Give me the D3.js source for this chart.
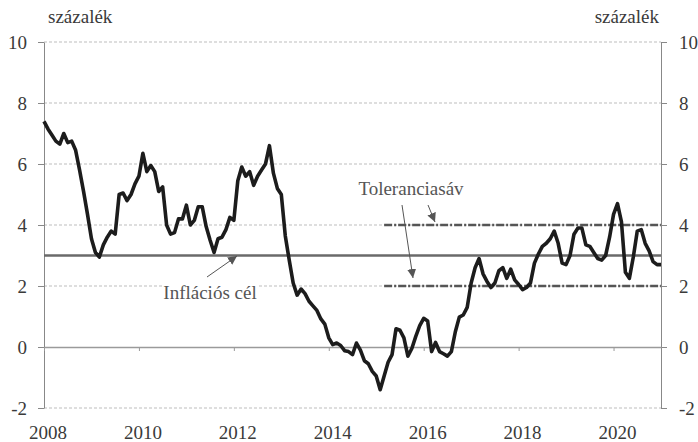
<!DOCTYPE html>
<html>
<head>
<meta charset="utf-8">
<script src="https://cdn.jsdelivr.net/npm/d3@7"></script>
<style>
  body { margin: 0; background: #fff; }
</style>
</head>
<body>
<script>
// monthly inflation, Dec 2007 .. Dec 2020 (percent)
var values = [
  7.4, 7.15, 6.95, 6.75, 6.65, 7.0, 6.7, 6.75, 6.45, 5.8, 5.1, 4.35, 3.55,
  3.1, 2.95, 3.35, 3.6, 3.8, 3.7, 5.0, 5.05, 4.8, 5.0, 5.35, 5.6,
  6.35, 5.75, 5.95, 5.75, 5.1, 5.25, 4.0, 3.7, 3.75, 4.2, 4.2, 4.65,
  4.0, 4.15, 4.6, 4.6, 3.95, 3.5, 3.1, 3.55, 3.6, 3.85, 4.25, 4.15,
  5.45, 5.9, 5.6, 5.75, 5.3, 5.6, 5.8, 6.0, 6.6, 5.7, 5.2, 5.0,
  3.65, 2.85, 2.1, 1.7, 1.9, 1.75, 1.5, 1.35, 1.2, 0.92, 0.75, 0.3,
  0.08, 0.13, 0.05, -0.12, -0.15, -0.25, 0.13, -0.1, -0.45, -0.55, -0.8, -0.95,
  -1.4, -0.95, -0.5, -0.25, 0.6, 0.55, 0.3, -0.3, -0.05, 0.35, 0.7, 0.94,
  0.85, -0.15, 0.15, -0.15, -0.22, -0.3, -0.15, 0.5, 0.98, 1.05, 1.3, 2.1,
  2.6, 2.9, 2.4, 2.15, 1.95, 2.1, 2.5, 2.6, 2.25, 2.55, 2.2, 2.05,
  1.88, 1.95, 2.1, 2.75, 3.05, 3.3, 3.4, 3.55, 3.8, 3.4, 2.75, 2.7,
  3.0, 3.7, 3.9, 3.9, 3.35, 3.3, 3.1, 2.9, 2.85, 3.0, 3.6, 4.35,
  4.7, 4.1, 2.45, 2.25, 2.95, 3.8, 3.85, 3.4, 3.15, 2.8, 2.7, 2.7
];
var yTicks = [-2, 0, 2, 4, 6, 8, 10];
var yearLabels = ["2008", "2010", "2012", "2014", "2016", "2018", "2020"];
var target = 3;
var bandLow = 2, bandHigh = 4;
var bandStart = 86; // Feb 2015
var unitLabel = "százalék";

var width = 698, height = 442;
var plotLeft = 44, plotRight = 661, plotTop = 42, plotBottom = 408;

// pick the first serif face that is really installed
function pickFont(list) {
    var ctx = document.createElement("canvas").getContext("2d");
    var probe = "százalék 2008 Toleranciasáv";
    ctx.font = "40px monospace";
    var base = ctx.measureText(probe).width;
    for (var i = 0; i < list.length; i++) {
        ctx.font = "40px '" + list[i] + "', monospace";
        if (ctx.measureText(probe).width != base) return "'" + list[i] + "'";
    }
    return "serif";
}
var serif = pickFont(["Liberation Serif", "DejaVu Serif", "Tinos", "Noto Serif",
    "Times New Roman", "FreeSerif", "Nimbus Roman", "Lato"]);
var fontSize = serif.indexOf("DejaVu") >= 0 ? "17px" : "19px";

var svg = d3.select("body").append("svg")
    .attr("width", width)
    .attr("height", height);

var x = d3.scaleLinear().domain([0, values.length - 1]).range([plotLeft, plotRight]);
var y = d3.scaleLinear().domain([-2, 10]).range([plotBottom, plotTop]);

var defs = svg.append("defs");
defs.append("marker")
    .attr("id", "arr")
    .attr("viewBox", "0 0 10 10")
    .attr("refX", 10).attr("refY", 5)
    .attr("markerWidth", 9).attr("markerHeight", 9)
    .attr("markerUnits", "userSpaceOnUse")
    .attr("orient", "auto")
    .append("path")
    .attr("d", "M0,0 L10,5 L0,10 z")
    .attr("fill", "#555");

// gridlines
svg.selectAll(".grid")
    .data(yTicks.filter(function (d) { return d != 0; }))
    .enter().append("line")
    .attr("class", "grid")
    .attr("x1", plotLeft).attr("x2", plotRight)
    .attr("y1", function (d) { return y(d); })
    .attr("y2", function (d) { return y(d); })
    .attr("stroke", "#bdbdbd")
    .attr("stroke-width", 1)
    .attr("stroke-dasharray", "3,2");

// left / right axes
var fmt = function (d) { return String(d); };
var leftAxis = d3.axisLeft(y).tickValues(yTicks).tickFormat(fmt)
    .tickSize(6).tickPadding(11).tickSizeOuter(0);
var rightAxis = d3.axisRight(y).tickValues(yTicks).tickFormat(fmt)
    .tickSize(6).tickPadding(12).tickSizeOuter(0);

function styleAxis(g) {
    g.attr("font-family", serif);
    g.select(".domain").attr("stroke", "#888").attr("stroke-width", 1);
    g.selectAll(".tick line").attr("stroke", "#888");
    g.selectAll(".tick text")
        .attr("fill", "#3a3a3a")
        .style("font-size", fontSize)
        .style("font-family", serif);
}

svg.append("g")
    .attr("transform", "translate(" + plotLeft + ",0)")
    .call(leftAxis)
    .call(styleAxis);

svg.append("g")
    .attr("transform", "translate(" + plotRight + ",0)")
    .call(rightAxis)
    .call(styleAxis);

// zero line with year ticks
var xTicks = d3.range(0, values.length, 24);
var xAxis = d3.axisBottom(x).tickValues(xTicks).tickSize(4).tickFormat("").tickSizeOuter(0);
svg.append("g")
    .attr("transform", "translate(0," + y(0) + ")")
    .call(xAxis)
    .call(function (g) {
        g.select(".domain").attr("stroke", "#9a9a9a").attr("stroke-width", 1.5);
        g.selectAll(".tick line").attr("stroke", "#9a9a9a");
    });

// year labels
svg.selectAll(".year")
    .data(yearLabels)
    .enter().append("text")
    .attr("class", "year")
    .attr("x", function (d, i) { return x(1 + i * 24); })
    .attr("y", 439)
    .attr("text-anchor", "middle")
    .attr("fill", "#3a3a3a")
    .style("font-family", serif)
    .style("font-size", fontSize)
    .text(function (d) { return d; });

// unit labels
svg.append("text")
    .attr("x", plotLeft + 4).attr("y", 23)
    .attr("fill", "#3a3a3a")
    .style("font-family", serif)
    .style("font-size", fontSize)
    .text(unitLabel);
svg.append("text")
    .attr("x", plotRight - 2).attr("y", 23)
    .attr("text-anchor", "end")
    .attr("fill", "#3a3a3a")
    .style("font-family", serif)
    .style("font-size", fontSize)
    .text(unitLabel);

// inflation target
svg.append("line")
    .attr("x1", plotLeft).attr("x2", plotRight)
    .attr("y1", y(target)).attr("y2", y(target))
    .attr("stroke", "#6a6a6a")
    .attr("stroke-width", 2.5);

// tolerance band
svg.selectAll(".band")
    .data([bandLow, bandHigh])
    .enter().append("line")
    .attr("class", "band")
    .attr("x1", x(bandStart)).attr("x2", plotRight)
    .attr("y1", function (d) { return y(d); })
    .attr("y2", function (d) { return y(d); })
    .attr("stroke", "#555")
    .attr("stroke-width", 2.5)
    .attr("stroke-dasharray", "8,2,2,2");

// series
var line = d3.line()
    .x(function (d, i) { return x(i); })
    .y(function (d) { return y(d); });

svg.append("path")
    .datum(values)
    .attr("d", line)
    .attr("fill", "none")
    .attr("stroke", "#1c1c1c")
    .attr("stroke-width", 3.6)
    .attr("stroke-linejoin", "round");

// annotations
var inflBg = svg.append("rect").attr("fill", "#fff");
var inflText = svg.append("text")
    .attr("x", 210).attr("y", 299)
    .attr("text-anchor", "middle")
    .attr("fill", "#555")
    .style("font-family", serif)
    .style("font-size", fontSize)
    .text("Inflációs cél");
var bb = inflText.node().getBBox();
inflBg.attr("x", bb.x - 1).attr("y", bb.y + 2)
    .attr("width", bb.width + 2).attr("height", bb.height - 4);

svg.append("line")
    .attr("x1", 207).attr("y1", 277)
    .attr("x2", 237).attr("y2", 256)
    .attr("stroke", "#555").attr("stroke-width", 1)
    .attr("marker-end", "url(#arr)");

svg.append("text")
    .attr("x", 411).attr("y", 195)
    .attr("text-anchor", "middle")
    .attr("fill", "#555")
    .style("font-family", serif)
    .style("font-size", fontSize)
    .text("Toleranciasáv");

svg.append("line")
    .attr("x1", 402).attr("y1", 205)
    .attr("x2", 413).attr("y2", 278)
    .attr("stroke", "#555").attr("stroke-width", 1)
    .attr("marker-end", "url(#arr)");

svg.append("line")
    .attr("x1", 428).attr("y1", 205)
    .attr("x2", 435).attr("y2", 222)
    .attr("stroke", "#555").attr("stroke-width", 1)
    .attr("marker-end", "url(#arr)");
</script>
</body>
</html>
